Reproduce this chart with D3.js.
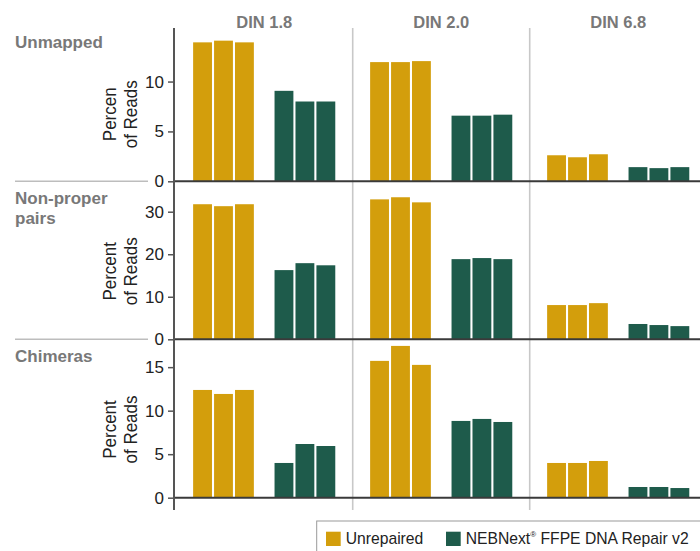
<!DOCTYPE html>
<html>
<head>
<meta charset="utf-8">
<script src="https://cdn.jsdelivr.net/npm/d3@7"></script>
<style>
  html, body { margin: 0; padding: 0; background: #fff; }
  svg { display: block; font-family: "Liberation Sans", Arial, Helvetica, sans-serif; }
</style>
</head>
<body>
<div id="chart"></div>
<script>
// ---------- data ----------
const dins = ["DIN 1.8", "DIN 2.0", "DIN 6.8"];
const metrics = ["Unmapped", "Non-proper pairs", "Chimeras"];
const metricLabelLines = [["Unmapped"], ["Non-proper", "pairs"], ["Chimeras"]];
const treatments = ["Unrepaired", "NEBNext FFPE DNA Repair v2"];
const replicates = [1, 2, 3];

// values per DIN (rows) x replicate (cols)
const unmappedUnrepaired = [[13.93, 14.10, 13.93], [11.95, 11.95, 12.05], [2.61, 2.41, 2.71]];
const unmappedRepaired   = [[9.07, 8.00, 8.00],    [6.58, 6.58, 6.68],    [1.42, 1.32, 1.42]];
const nonproperUnrepaired = [[31.76, 31.30, 31.76], [32.90, 33.40, 32.20], [8.05, 8.05, 8.50]];
const nonproperRepaired   = [[16.27, 17.90, 17.40], [18.85, 19.10, 18.85], [3.60, 3.35, 3.10]];
const chimerasUnrepaired = [[12.38, 11.92, 12.38], [15.72, 17.44, 15.26], [3.99, 3.99, 4.22]];
const chimerasRepaired   = [[3.99, 6.17, 5.94],    [8.82, 9.05, 8.70],    [1.23, 1.23, 1.11]];

const yTickValues = [[0, 5, 10], [0, 10, 20, 30], [0, 5, 10, 15]];
const yDomainMax = [15.64, 37.15, 18.2];
const yTitleLine1 = ["Percen", "Percent", "Percent"];
const yTitleLine2 = ["of Reads", "of Reads", "of Reads"];

const seriesByMetric = [
  [unmappedUnrepaired, unmappedRepaired],
  [nonproperUnrepaired, nonproperRepaired],
  [chimerasUnrepaired, chimerasRepaired]
];

// ---------- layout ----------
const W = 700, H = 551;
const colors = ["#D39E0C", "#1E5B4B"];
const panelTop = [25.3, 181.3, 339.3];
const panelH = [156, 158, 158.4];
const axisX = 174;
const facetX0 = 175.7, facetW = 177;

const svg = d3.select("#chart").append("svg")
  .attr("width", W).attr("height", H);

const xFacet = d3.scaleBand().domain(dins)
  .range([facetX0, facetX0 + facetW * dins.length]).padding(0);
const xGroup = d3.scaleBand().domain(treatments)
  .range([0, facetW]).paddingInner(0.254).paddingOuter(0.214);
const xRep = d3.scaleBand().domain(replicates)
  .range([0, xGroup.bandwidth()]).paddingInner(0.1).paddingOuter(0);

const yScales = metrics.map((m, i) =>
  d3.scaleLinear().domain([0, yDomainMax[i]])
    .range([panelTop[i] + panelH[i], panelTop[i]]));

// facet separators
svg.append("g").selectAll("line")
  .data(dins.slice(1))
  .join("line")
  .attr("x1", d => xFacet(d)).attr("x2", d => xFacet(d))
  .attr("y1", 28).attr("y2", 510)
  .attr("stroke", "#c8c8c8").attr("stroke-width", 1.6);

// left gray rules under row labels
svg.append("g").selectAll("line")
  .data([0, 1])
  .join("line")
  .attr("x1", 15).attr("x2", 148)
  .attr("y1", i => yScales[i](0)).attr("y2", i => yScales[i](0))
  .attr("stroke", "#bdbdbd").attr("stroke-width", 1.5);

// row labels
metrics.forEach((m, i) => {
  const t = svg.append("text")
    .attr("x", 15).attr("y", panelTop[i] + 23)
    .attr("font-size", 17).attr("font-weight", "bold").attr("fill", "#787878");
  metricLabelLines[i].forEach((line, j) => {
    t.append("tspan").attr("x", 15).attr("dy", j === 0 ? 0 : 20).text(line);
  });
});

// DIN headers
svg.append("g").selectAll("text")
  .data(dins)
  .join("text")
  .attr("x", d => xFacet(d) + facetW / 2)
  .attr("y", 27.7)
  .attr("text-anchor", "middle")
  .attr("font-size", 16.5).attr("font-weight", "bold").attr("fill", "#787878")
  .text(d => d);

// bars
metrics.forEach((m, mi) => {
  const y = yScales[mi];
  const flat = [];
  dins.forEach((din, di) => {
    treatments.forEach((tr, ti) => {
      replicates.forEach((r, ri) => {
        flat.push({din, tr, ti, r, v: seriesByMetric[mi][ti][di][ri]});
      });
    });
  });
  svg.append("g").selectAll("rect")
    .data(flat)
    .join("rect")
    .attr("x", d => xFacet(d.din) + xGroup(d.tr) + xRep(d.r))
    .attr("width", xRep.bandwidth())
    .attr("y", d => y(d.v))
    .attr("height", d => y(0) - y(d.v))
    .attr("fill", d => colors[d.ti]);
});

// y axes
metrics.forEach((m, mi) => {
  const y = yScales[mi];
  const g = svg.append("g")
    .attr("transform", `translate(${axisX},0)`)
    .call(d3.axisLeft(y).tickValues(yTickValues[mi]).tickSize(6).tickPadding(4).tickFormat(d3.format("d")));
  g.select(".domain").remove();
  g.selectAll(".tick line").attr("stroke", "#555").attr("stroke-width", 1.5);
  g.selectAll(".tick text")
    .attr("font-size", 17).attr("fill", "#222")
    .attr("font-family", "\"Liberation Sans\", Arial, Helvetica, sans-serif");

  // axis title (two rotated lines)
  const cy = panelTop[mi] + panelH[mi] / 2 + 11;
  [[yTitleLine1[mi], 116], [yTitleLine2[mi], 137]].forEach(([txt, bx]) => {
    svg.append("text")
      .attr("transform", `translate(${bx},${cy}) rotate(-90) scale(1,1.12)`)
      .attr("text-anchor", "middle")
      .attr("font-size", 17).attr("fill", "#222")
      .text(txt);
  });
});

// zero baselines
svg.append("g").selectAll("line")
  .data(metrics.map((m, i) => i))
  .join("line")
  .attr("x1", axisX).attr("x2", W)
  .attr("y1", i => yScales[i](0)).attr("y2", i => yScales[i](0))
  .attr("stroke", "#3a3a3a").attr("stroke-width", 2);

// main vertical axis line
svg.append("line")
  .attr("x1", axisX).attr("x2", axisX)
  .attr("y1", 28).attr("y2", 510)
  .attr("stroke", "#555").attr("stroke-width", 2);

// legend
const lg = svg.append("g");
lg.append("rect")
  .attr("x", 316.7).attr("y", 521).attr("width", 420).attr("height", 60)
  .attr("fill", "#fff").attr("stroke", "#9a9a9a").attr("stroke-width", 1);
const legendX = [326, 446];
treatments.forEach((tr, i) => {
  lg.append("rect")
    .attr("x", legendX[i]).attr("y", 531.7)
    .attr("width", 14.7).attr("height", 14.3)
    .attr("fill", colors[i]);
  const t = lg.append("text")
    .attr("x", legendX[i] + 19.7).attr("y", 544.3)
    .attr("font-size", 15.7).attr("fill", "#222");
  if (i === 1) {
    t.append("tspan").text("NEBNext");
    t.append("tspan").attr("font-size", 8).attr("dy", -7).text("®");
    t.append("tspan").attr("dy", 7).text(" FFPE DNA Repair v2");
  } else {
    t.text(tr);
  }
});
</script>
</body>
</html>
